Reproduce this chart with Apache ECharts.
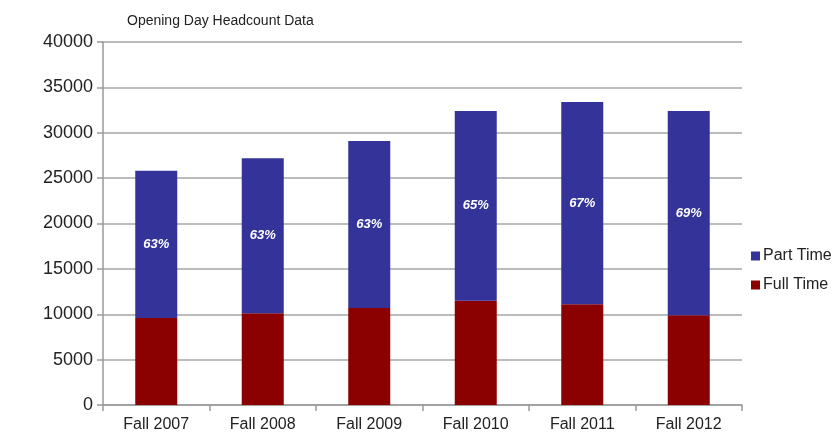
<!DOCTYPE html>
<html>
<head>
<meta charset="utf-8">
<script src="https://cdn.jsdelivr.net/npm/echarts@6/dist/echarts.min.js"></script>
<style>
    html, body { margin:0; padding:0; background:#fff; }
    #chart { width:840px; height:445px; }
</style>
</head>
<body>
<div id="chart"></div>
<script>
/* 数据 */
const categories = ["Fall 2007", "Fall 2008", "Fall 2009", "Fall 2010", "Fall 2011", "Fall 2012"];

const fullTime = [9600, 10100, 10700, 11500, 11100, 9900];

const partTime = [16200, 17100, 18400, 20900, 22300, 22500];

/* 图表 */
const chart = echarts.init(document.getElementById("chart"));

const font = "Liberation Sans, Arial, sans-serif";

chart.setOption({

    animation:false,

    title:{
        text:"Opening Day Headcount Data",
        left:122,
        top:9,
        textStyle:{
            fontFamily:font,
            fontSize:14,
            fontWeight:"normal",
            color:"#222"
        }
    },

    legend:{
        data:["Part Time", "Full Time"],
        orient:"vertical",
        left:746,
        top:243,
        itemWidth:9,
        itemHeight:9,
        itemGap:13,
        icon:"rect",
        textStyle:{
            fontFamily:font,
            fontSize:16,
            color:"#222",
            padding:[0,0,0,-2]
        }
    },

    grid:{
        left:103,
        right:98,
        top:42,
        bottom:40
    },

    xAxis:{
        type:"category",
        data:categories,
        axisLine:{ lineStyle:{ color:"#999", width:1.5 } },
        axisTick:{ show:true, length:6, lineStyle:{ color:"#999", width:1.5 } },
        axisLabel:{
            fontFamily:font,
            fontSize:16,
            color:"#222",
            margin:12
        }
    },

    yAxis:{
        type:"value",
        min:0,
        max:40000,
        interval:5000,
        axisLine:{ show:true, lineStyle:{ color:"#999", width:1.5 } },
        axisTick:{ show:true, length:6, lineStyle:{ color:"#999", width:1.5 } },
        splitLine:{ lineStyle:{ color:"#a6a6a6", width:1.5 } },
        axisLabel:{
            fontFamily:font,
            fontSize:18,
            color:"#222",
            margin:10,
            formatter:function(v){
                return String(v);
            }
        }
    },

    series:[
        {
            name:"Full Time",
            type:"bar",
            stack:"total",
            data:fullTime,
            barWidth:42,
            itemStyle:{ color:"#8b0000" }
        },
        {
            name:"Part Time",
            type:"bar",
            stack:"total",
            data:partTime,
            barWidth:42,
            itemStyle:{ color:"#333399" },
            label:{
                show:true,
                position:"inside",
                fontFamily:font,
                fontSize:13,
                fontWeight:"bold",
                fontStyle:"italic",
                color:"#fff",
                formatter:function(p){
                    const total = partTime[p.dataIndex] + fullTime[p.dataIndex];
                    return Math.round(partTime[p.dataIndex] / total * 100) + "%";
                }
            }
        }
    ]
});
</script>
</body>
</html>
